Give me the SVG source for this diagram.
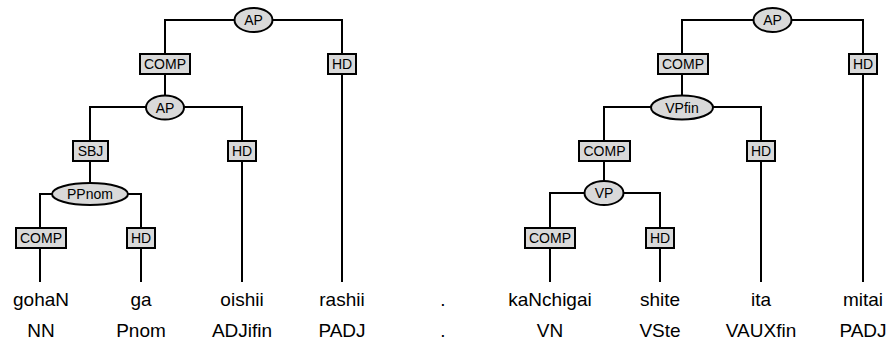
<svg xmlns="http://www.w3.org/2000/svg" width="892" height="342" viewBox="0 0 892 342">
<style>
.bg{fill:#ffffff}
.e{fill:#d9d9d9;stroke:#000;stroke-width:2}
.b{fill:#d9d9d9;stroke:#000;stroke-width:2}
.l{font-family:"Liberation Sans",Arial,sans-serif;font-size:14px;text-anchor:middle;fill:#000}
.w{font-family:"Liberation Sans",Arial,sans-serif;font-size:19px;text-anchor:middle;fill:#000}
.c{fill:none;stroke:#000;stroke-width:2}
</style>
<rect class="bg" x="0" y="0" width="892" height="342"/>
<g id="connectors">
<path class="c" d="M165,54 V20 H342 V54"/>
<path class="c" d="M165,74 V107"/>
<path class="c" d="M342,74 V282"/>
<path class="c" d="M90,141 V107 H242 V141"/>
<path class="c" d="M90,161 V194"/>
<path class="c" d="M242,161 V282"/>
<path class="c" d="M40,228 V194 H141 V228"/>
<path class="c" d="M40,248 V282"/>
<path class="c" d="M141,248 V282"/>
<path class="c" d="M682,54 V20 H863 V54"/>
<path class="c" d="M682,74 V107"/>
<path class="c" d="M863,74 V282"/>
<path class="c" d="M604,141 V107 H761 V141"/>
<path class="c" d="M604,161 V193"/>
<path class="c" d="M761,161 V282"/>
<path class="c" d="M550,228 V193 H660 V228"/>
<path class="c" d="M550,248 V282"/>
<path class="c" d="M660,248 V282"/>
</g>
<g id="n_ap1"><ellipse class="e" cx="253.5" cy="20" rx="19" ry="12"/><text class="l" x="253.5" y="25">AP</text></g>
<g id="n_comp1"><rect class="b" x="140" y="54" width="50" height="20"/><text class="l" x="165" y="69">COMP</text></g>
<g id="n_hd1"><rect class="b" x="328" y="54" width="28" height="20"/><text class="l" x="342" y="69">HD</text></g>
<g id="n_ap2"><ellipse class="e" cx="165" cy="107.5" rx="19" ry="12"/><text class="l" x="165" y="112.5">AP</text></g>
<g id="n_sbj"><rect class="b" x="73" y="141" width="35" height="20"/><text class="l" x="90.5" y="156">SBJ</text></g>
<g id="n_hd2"><rect class="b" x="228" y="141" width="28" height="20"/><text class="l" x="242" y="156">HD</text></g>
<g id="n_ppnom"><ellipse class="e" cx="90" cy="194" rx="38" ry="11"/><text class="l" x="90" y="199">PPnom</text></g>
<g id="n_comp2"><rect class="b" x="16" y="228" width="50" height="20"/><text class="l" x="41" y="243">COMP</text></g>
<g id="n_hd3"><rect class="b" x="127" y="228" width="28" height="20"/><text class="l" x="141" y="243">HD</text></g>
<g id="n_ap3"><ellipse class="e" cx="772.5" cy="20" rx="19" ry="12"/><text class="l" x="772.5" y="25">AP</text></g>
<g id="n_comp3"><rect class="b" x="658" y="54" width="50" height="20"/><text class="l" x="683" y="69">COMP</text></g>
<g id="n_hd4"><rect class="b" x="849" y="54" width="28" height="20"/><text class="l" x="863" y="69">HD</text></g>
<g id="n_vpfin"><ellipse class="e" cx="682" cy="107.5" rx="31" ry="12"/><text class="l" x="682" y="112.5">VPfin</text></g>
<g id="n_comp4"><rect class="b" x="579" y="141" width="51" height="20"/><text class="l" x="604.5" y="156">COMP</text></g>
<g id="n_hd5"><rect class="b" x="747" y="141" width="28" height="20"/><text class="l" x="761" y="156">HD</text></g>
<g id="n_vp"><ellipse class="e" cx="604" cy="193" rx="19.5" ry="12"/><text class="l" x="604" y="198">VP</text></g>
<g id="n_comp5"><rect class="b" x="525" y="228" width="50" height="20"/><text class="l" x="550" y="243">COMP</text></g>
<g id="n_hd6"><rect class="b" x="646" y="228" width="28" height="20"/><text class="l" x="660" y="243">HD</text></g>
<g id="words">
<text class="w" x="41" y="306">gohaN</text>
<text class="w" x="141" y="306">ga</text>
<text class="w" x="242" y="306">oishii</text>
<text class="w" x="342" y="306">rashii</text>
<text class="w" x="443" y="306">.</text>
<text class="w" x="550" y="306">kaNchigai</text>
<text class="w" x="660" y="306">shite</text>
<text class="w" x="761" y="306">ita</text>
<text class="w" x="863" y="306">mitai</text>
<text class="w" x="41" y="337">NN</text>
<text class="w" x="141" y="337">Pnom</text>
<text class="w" x="242" y="337">ADJifin</text>
<text class="w" x="342" y="337">PADJ</text>
<text class="w" x="443" y="337">.</text>
<text class="w" x="550" y="337">VN</text>
<text class="w" x="660" y="337">VSte</text>
<text class="w" x="761" y="337">VAUXfin</text>
<text class="w" x="863" y="337">PADJ</text>
</g>
</svg>
